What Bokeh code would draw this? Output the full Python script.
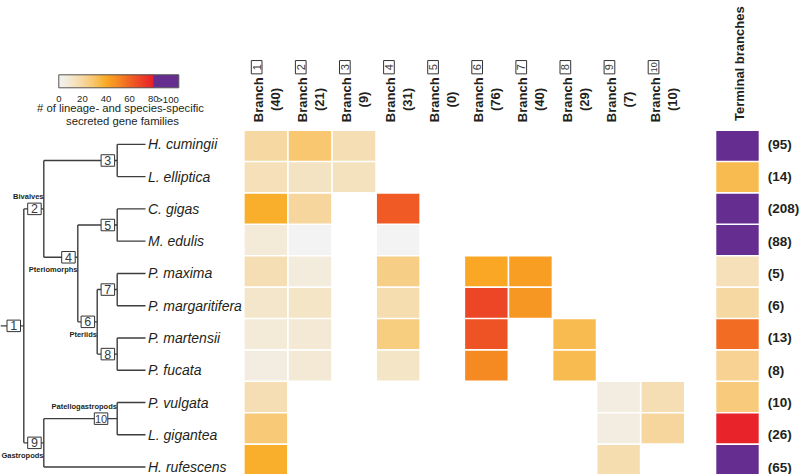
import numpy as np
from bokeh.plotting import figure
from bokeh.models import Range1d, LinearColorMapper, ColumnDataSource
from bokeh.core.properties import value
from bokeh.embed import file_html
from bokeh.resources import INLINE

# ---------------- data ----------------
species = ["H. cumingii", "L. elliptica", "C. gigas", "M. edulis", "P. maxima",
           "P. margaritifera", "P. martensii", "P. fucata", "P. vulgata",
           "L. gigantea", "H. rufescens"]
branch_ids = ["1", "2", "3", "4", "5", "6", "7", "8", "9", "10"]
branch_counts = [40, 21, 9, 31, 0, 76, 40, 29, 7, 10]
terminal_counts = [95, 14, 208, 88, 5, 6, 13, 8, 10, 26, 65]

N = None
# colour value of each heat-map cell (rows = species, cols = branches 1..10), None = empty
cell_values = [
    [20, 29, 16, N, N, N, N, N, N, N],
    [15, 13, 14, N, N, N, N, N, N, N],
    [39, 21, N, 63, N, N, N, N, N, N],
    [8, 0, N, 0, N, N, N, N, N, N],
    [16, 7, N, 25, N, 41, 44, N, N, N],
    [11, 12, N, 17, N, 69, 46, N, N, N],
    [8, 9, N, 26, N, 65, N, 34, N, N],
    [5, 9, N, 12, N, 50, N, 34, N, N],
    [16, N, N, N, N, N, N, N, 5, 16],
    [28, N, N, N, N, N, N, N, 5, 21],
    [39, N, N, N, N, N, N, N, 17, N],
]
terminal_values = [120, 34, 120, 120, 15, 20, 58, 23, 27, 79, 120]

legend_ticks = [0, 20, 40, 60, 80]
legend_over_label = ">100"
legend_title = ["# of lineage- and species-specific", "secreted gene families"]

tree_children = {
    1: [2, 9],
    2: [3, 4],
    3: ["H. cumingii", "L. elliptica"],
    4: [5, 6],
    5: ["C. gigas", "M. edulis"],
    6: [7, 8],
    7: ["P. maxima", "P. margaritifera"],
    8: ["P. martensii", "P. fucata"],
    9: [10, "H. rufescens"],
    10: ["P. vulgata", "L. gigantea"],
}
clade_names = {2: ("Bivalves", -1), 4: ("Pteriomorphs", 1), 6: ("Pteriids", 1),
               9: ("Gastropods", 1), 10: ("Patellogastropods", -1)}

# ---------------- layout (pixels) ----------------
W, H = 799, 474
X0, DX, Y0, DY = 243.3, 44.1, 129.6, 31.4


def sx(px):
    return (px - X0) / DX + 0.5


def sy(py):
    return (py - Y0) / DY + 0.5


def ddx(px):
    return px / DX


def ddy(py):
    return py / DY


FONT = value("Liberation Sans")
TXT = "#231F20"
LINE = "#3d3d3d"
TERM_X = sx(737.0)

TREE_MID_PX, TREE_PITCH_PX = 305.2, 32.27
node_x_px = {1: 23.3, 2: 43.3, 9: 43.3, 4: 77.3, 6: 96.7,
             3: 116.7, 5: 116.7, 7: 116.7, 8: 116.7, 10: 116.7}
node_y_shift = {4: -0.5}          # in leaf spacings
box_gap = {1: 3.3, 10: 9.4}
LEAF_END_PX = 145.0

# ---------------- colour mapping ----------------
anchors = [(0, "#F3F3F3"), (10, "#F3E8D0"), (20, "#F6D8A2"), (30, "#F8C56A"),
           (40, "#F9AB24"), (50, "#F68B22"), (60, "#F16424"), (70, "#EC4326"),
           (80, "#E8202A")]


def _rgb(h):
    return np.array([int(h[i:i + 2], 16) for i in (1, 3, 5)], dtype=float)


av = np.array([a[0] for a in anchors], dtype=float)
ac = np.array([_rgb(a[1]) for a in anchors])
palette = []
for t in np.linspace(0, 80, 256):
    c = [np.interp(t, av, ac[:, k]) for k in range(3)]
    palette.append("#%02X%02X%02X" % tuple(int(round(v)) for v in c))
mapper = LinearColorMapper(palette=palette, low=0, high=80, high_color="#662D91")

p = figure(width=W, height=H, x_range=Range1d(sx(0), sx(W)),
           y_range=Range1d(sy(H), sy(0)), output_backend="svg",
           toolbar_location=None, min_border=0, x_axis_type=None, y_axis_type=None)
p.grid.visible = False
p.outline_line_color = None
p.background_fill_color = "white"
p.border_fill_color = "white"

# ---------------- heat map ----------------
hx, hy, hv = [], [], []
for r, row in enumerate(cell_values):
    for c, v in enumerate(row):
        if v is not None:
            hx.append(c + 1)
            hy.append(r + 1)
            hv.append(v)
for r, v in enumerate(terminal_values):
    hx.append(TERM_X)
    hy.append(r + 1)
    hv.append(v)
p.rect(x="x", y="y", width=42.4, height=29.8, width_units="screen", height_units="screen",
       source=ColumnDataSource(dict(x=hx, y=hy, v=hv)),
       fill_color={"field": "v", "transform": mapper}, line_color=None)

# ---------------- tree ----------------
mid_leaf = (len(species) - 1) / 2
leaf_y = {s: sy(TREE_MID_PX + TREE_PITCH_PX * (i - mid_leaf)) for i, s in enumerate(species)}
pitch_u = ddy(TREE_PITCH_PX)
node_y = {}


def get_y(n):
    if isinstance(n, str):
        return leaf_y[n]
    if n not in node_y:
        ys = [get_y(c) for c in tree_children[n]]
        node_y[n] = (min(ys) + max(ys)) / 2 + node_y_shift.get(n, 0) * pitch_u
    return node_y[n]


for n in tree_children:
    get_y(n)

x0s, y0s, x1s, y1s = [], [], [], []
for n, ch in tree_children.items():
    nx = sx(node_x_px[n])
    cys = [get_y(c) for c in ch]
    x0s.append(nx); y0s.append(min(cys)); x1s.append(nx); y1s.append(max(cys))
    for c in ch:
        cx = sx(LEAF_END_PX) if isinstance(c, str) else sx(node_x_px[c])
        x0s.append(nx); y0s.append(get_y(c)); x1s.append(cx); y1s.append(get_y(c))
x0s.append(sx(0)); y0s.append(node_y[1]); x1s.append(sx(node_x_px[1])); y1s.append(node_y[1])
p.segment(x0=x0s, y0=y0s, x1=x1s, y1=y1s, line_color=LINE, line_width=1.4)

BOX_W, BOX_H = 13.5, 11.5
bx, by, bt, bs = [], [], [], []
for n in tree_children:
    right = node_x_px[n] - box_gap.get(n, 2.6)
    bx.append(sx(right - BOX_W / 2))
    by.append(node_y[n])
    bt.append(str(n))
    bs.append("11px" if n >= 10 else "12.5px")
p.rect(x=bx, y=by, width=BOX_W, height=BOX_H, width_units="screen", height_units="screen",
       fill_color="white", line_color="#333333", line_width=1)
p.text(x="x", y="y", text="t", text_font_size="s", source=ColumnDataSource(dict(x=bx, y=by, t=bt, s=bs)),
       text_font=FONT, text_color="#3a3a3a", text_align="center", text_baseline="middle")

# clade labels
cx_, cy_, ct_ = [], [], []
for n, (name, side) in clade_names.items():
    cx_.append(sx(node_x_px[n] - 0.3))
    cy_.append(node_y[n] + side * ddy(12.5))
    ct_.append(name)
p.text(x=cx_, y=cy_, text=ct_, text_font=FONT, text_font_size="7.5px", text_font_style="bold",
       text_color=TXT, text_align="right", text_baseline="middle")

# species labels
p.text(x=[sx(147.5)] * len(species), y=[leaf_y[s] for s in species], text=species,
       text_font=FONT, text_font_size="14px", text_font_style="italic", text_color=TXT,
       text_align="left", text_baseline="middle")

# terminal count labels
p.text(x=[sx(767.3)] * len(species), y=[leaf_y[s] for s in species],
       text=["(%d)" % v for v in terminal_counts], text_font=FONT, text_font_size="13.5px",
       text_font_style="bold", text_color=TXT, text_align="left", text_baseline="middle")

# ---------------- column headers ----------------
cols = [i + 1 for i in range(len(branch_ids))]
p.text(x=[c + ddx(-7.5) for c in cols], y=[sy(121.7)] * len(cols), text=["Branch"] * len(cols),
       angle=np.pi / 2, text_font=FONT, text_font_size="13px", text_font_style="bold",
       text_color=TXT, text_align="left", text_baseline="middle")
hbx = [c + ddx(-9.2) for c in cols]
hby = [sy(66.7)] * len(cols)
p.rect(x=hbx, y=hby, width=10.7, height=13.3, width_units="screen", height_units="screen",
       fill_color="white", line_color="#333333", line_width=1)
p.text(x="x", y="y", text="t", text_font_size="s", angle=np.pi / 2,
       source=ColumnDataSource(dict(x=hbx, y=hby, t=branch_ids,
                                    s=["9px" if len(b) > 1 else "11px" for b in branch_ids])),
       text_font=FONT, text_color="#3a3a3a", text_align="center", text_baseline="middle")
p.text(x=[c + ddx(9.5) for c in cols], y=[sy(99)] * len(cols),
       text=["(%d)" % v for v in branch_counts], angle=np.pi / 2, text_font=FONT,
       text_font_size="13px", text_font_style="bold", text_color=TXT,
       text_align="center", text_baseline="middle")
p.text(x=[TERM_X + ddx(1.5)], y=[sy(120.5)], text=["Terminal branches"], angle=np.pi / 2,
       text_font=FONT, text_font_size="13px", text_font_style="bold", text_color=TXT,
       text_align="left", text_baseline="middle")

# ---------------- colour legend ----------------
LEG_L, LEG_R80, LEG_R, LEG_T, LEG_B = 58.3, 152.7, 178.3, 74.3, 87.3
gv = np.linspace(0, 80, 161)
gpx = LEG_L + gv / 80 * (LEG_R80 - LEG_L)
step = (LEG_R80 - LEG_L) / 160
p.rect(x="x", y="y", width=step + 0.7, height=LEG_B - LEG_T, width_units="screen",
       height_units="screen", source=ColumnDataSource(dict(x=[sx(v) for v in gpx],
                                                           y=[sy((LEG_T + LEG_B) / 2)] * len(gpx), v=gv)),
       fill_color={"field": "v", "transform": mapper}, line_color=None)
p.rect(x="x", y="y", width=LEG_R - LEG_R80, height=LEG_B - LEG_T, width_units="screen",
       height_units="screen", source=ColumnDataSource(dict(x=[sx((LEG_R80 + LEG_R) / 2)],
                                                           y=[sy((LEG_T + LEG_B) / 2)], v=[100])),
       fill_color={"field": "v", "transform": mapper}, line_color=None)
p.rect(x=[sx((LEG_L + LEG_R) / 2)], y=[sy((LEG_T + LEG_B) / 2)], width=LEG_R - LEG_L,
       height=LEG_B - LEG_T, width_units="screen", height_units="screen",
       fill_color=None, line_color="#555555", line_width=1)
tick_x = [sx(LEG_L + t / 80 * (LEG_R80 - LEG_L)) for t in legend_ticks] + [sx(167.5)]
tick_t = [str(t) for t in legend_ticks] + [legend_over_label]
p.text(x=tick_x, y=[sy(98.7)] * len(tick_x), text=tick_t, text_font=FONT, text_font_size="9.5px",
       text_color=TXT, text_align="center", text_baseline="middle")
p.text(x=[sx(120), sx(122)], y=[sy(107.5), sy(120.6)], text=legend_title, text_font=FONT,
       text_font_size="11.3px", text_color=TXT, text_align="center", text_baseline="middle")

open("out.html", "w").write(file_html(p, INLINE))
